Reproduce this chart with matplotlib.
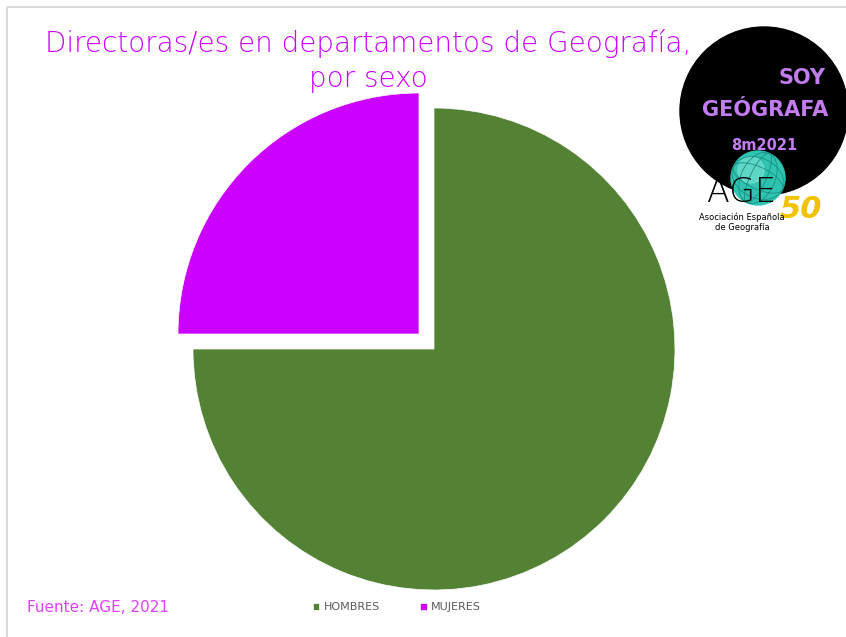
import matplotlib
matplotlib.use("Agg")
import matplotlib.pyplot as plt
from matplotlib.patches import Circle, Rectangle, Arc

categories = ["HOMBRES", "MUJERES"]
values = [75, 25]
colors = ["#548235", "#CC00FF"]
explode = [0, 0.088]
title = "Directoras/es en departamentos de Geografía,\npor sexo"
source = "Fuente: AGE, 2021"

W, H = 846, 637
fig = plt.figure(figsize=(W / 100, H / 100), dpi=100)
fig.patch.set_facecolor("white")

# Overlay in pixel coordinates for decorations
ov = fig.add_axes([0, 0, 1, 1])
ov.set_xlim(0, W)
ov.set_ylim(H, 0)
ov.axis("off")
ov.add_patch(Rectangle((7, 7), W, H, fill=False, edgecolor="#D9D9D9", lw=1.5))

# Pie axes: centre (434,349), radius 241 px
cx, cy, r = 434, 349, 241
side = 2.2 * r
ax = fig.add_axes([(cx - side / 2) / W, 1 - (cy + side / 2) / H, side / W, side / H])
wedges, _ = ax.pie(values, colors=colors, explode=explode, startangle=90,
                   counterclock=False, radius=1.0,
                   wedgeprops=dict(edgecolor="white", linewidth=0.5))
ax.set_xlim(-1.1, 1.1)
ax.set_ylim(-1.1, 1.1)
ax.set_aspect("equal")
ax.axis("off")

fig.text(368 / W, 1 - 61 / H, title, ha="center", va="center", color="#CC00FF",
         fontsize=20, family="DejaVu Sans", fontweight="light", linespacing=1.3)

fig.text(27 / W, 1 - 608 / H, source, ha="left", va="center", color="#E040FB",
         fontsize=11, family="DejaVu Sans")

leg = fig.legend(wedges, categories, loc="center", bbox_to_anchor=(397 / W, 1 - 607 / H),
                 ncol=2, frameon=False, fontsize=8, handlelength=0.6, handleheight=0.6,
                 handletextpad=0.4, columnspacing=3.6, borderpad=0)
for t in leg.get_texts():
    t.set_color("#595959")

# Logo
ov.add_patch(Circle((764, 111), 84, color="black", zorder=3))
purple = "#C27CF0"
ov.text(825, 78, "SOY", ha="right", va="center", color=purple, fontsize=15,
        family="DejaVu Sans", fontweight="bold", zorder=4)
ov.text(765, 110, "GEÓGRAFA", ha="center", va="center", color=purple, fontsize=15,
        family="DejaVu Sans", fontweight="bold", zorder=4)
ov.text(764, 146, "8m2021", ha="center", va="center", color=purple, fontsize=10.5,
        family="DejaVu Sans", fontweight="bold", zorder=4)
ov.add_patch(Circle((758, 178), 27, color="#2FC4B2", zorder=5))
ov.add_patch(Circle((751, 170), 13, color="#7FE3D5", zorder=5, alpha=0.6))
for w_ in (16, 34):
    ov.add_patch(Arc((758, 178), w_, 54, angle=25, color="#1A8F80", lw=0.6, zorder=5))
for h_ in (22, 40):
    ov.add_patch(Arc((758, 178), 54, h_, angle=25, color="#1A8F80", lw=0.6, zorder=5))
ov.text(741, 193, "AGE", ha="center", va="center", color="black", fontsize=24,
        family="DejaVu Sans", fontweight="light", zorder=6)
ov.text(801, 210, "50", ha="center", va="center", color="#F2C200", fontsize=22,
        family="DejaVu Sans", style="italic", fontweight="bold", zorder=6)
ov.text(742, 217, "Asociación Española", ha="center", va="center", color="black",
        fontsize=6, family="DejaVu Sans", zorder=6)
ov.text(742, 227, "de Geografía", ha="center", va="center", color="black",
        fontsize=6, family="DejaVu Sans", zorder=6)

fig.savefig("out.png", dpi=100)
